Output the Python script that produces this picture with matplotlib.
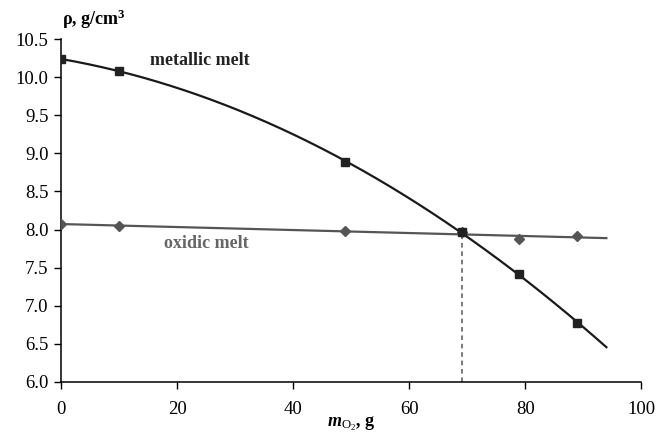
import numpy as np
import matplotlib
matplotlib.use("Agg")
import matplotlib.pyplot as plt

plt.rcParams['font.family'] = 'Liberation Serif'
plt.rcParams['mathtext.fontset'] = 'custom'
plt.rcParams['mathtext.it'] = 'Liberation Serif:italic:bold'
plt.rcParams['mathtext.rm'] = 'Liberation Serif'
plt.rcParams['mathtext.bf'] = 'Liberation Serif:bold'

# data
m_o2 = [0, 10, 49, 69.2, 79, 89]
rho_metal = [10.24, 10.08, 8.88, 7.97, 7.41, 6.77]
rho_oxide = [8.07, 8.05, 7.98, 7.97, 7.87, 7.91]
x_cross = 69.2
y_cross = 7.96
x_fit_end = 94

fig = plt.figure(figsize=(6.7, 4.34), dpi=100)
ax = fig.add_axes([0.091, 0.12, 0.866, 0.79])

# trendlines like the spreadsheet: quadratic for metal, linear for oxide
xf = np.linspace(0, x_fit_end, 200)
pm = np.polyfit(m_o2, rho_metal, 2)
po = np.polyfit(m_o2, rho_oxide, 1)
ax.plot(xf, np.polyval(po, xf), color='#555555', lw=1.6, zorder=2)
ax.plot(xf, np.polyval(pm, xf), color='#1a1a1a', lw=1.6, zorder=3)

ax.plot(m_o2, rho_oxide, 'D', color='#555555', ms=5, zorder=4)
ax.plot(m_o2, rho_metal, 's', color='#222222', ms=6, zorder=5)

ax.plot([x_cross, x_cross], [6.0, y_cross], color='#555555', lw=1.1,
        ls=(0, (3, 2.5)), zorder=1)

ax.text(24, 10.22, 'metallic melt', fontsize=13, fontweight='bold',
        color='#222222', ha='center', va='center')
ax.text(25, 7.82, 'oxidic melt', fontsize=13, fontweight='bold',
        color='#666666', ha='center', va='center')

ax.set_xlim(0, 100)
ax.set_ylim(6.0, 10.5)
ax.set_xticks(range(0, 101, 20))
ax.set_yticks(np.arange(6.0, 10.51, 0.5))
ax.set_yticklabels(['%.1f' % v for v in np.arange(6.0, 10.51, 0.5)])
ax.tick_params(labelsize=13.5, length=5, width=1, direction='out', pad=4)
ax.tick_params(axis='x', pad=9)

for s in ['top', 'right']:
    ax.spines[s].set_visible(False)
for s in ['left', 'bottom']:
    ax.spines[s].set_linewidth(1.1)

ax.set_xlabel(r'$m_{\mathrm{O}_2}$, g', fontsize=13, fontweight='bold', labelpad=-3)
fig.text(0.093, 0.955, r'ρ, g/cm$^\mathbf{3}$', fontsize=13, fontweight='bold',
         ha='left', va='center')

fig.savefig('out.png', dpi=100)
